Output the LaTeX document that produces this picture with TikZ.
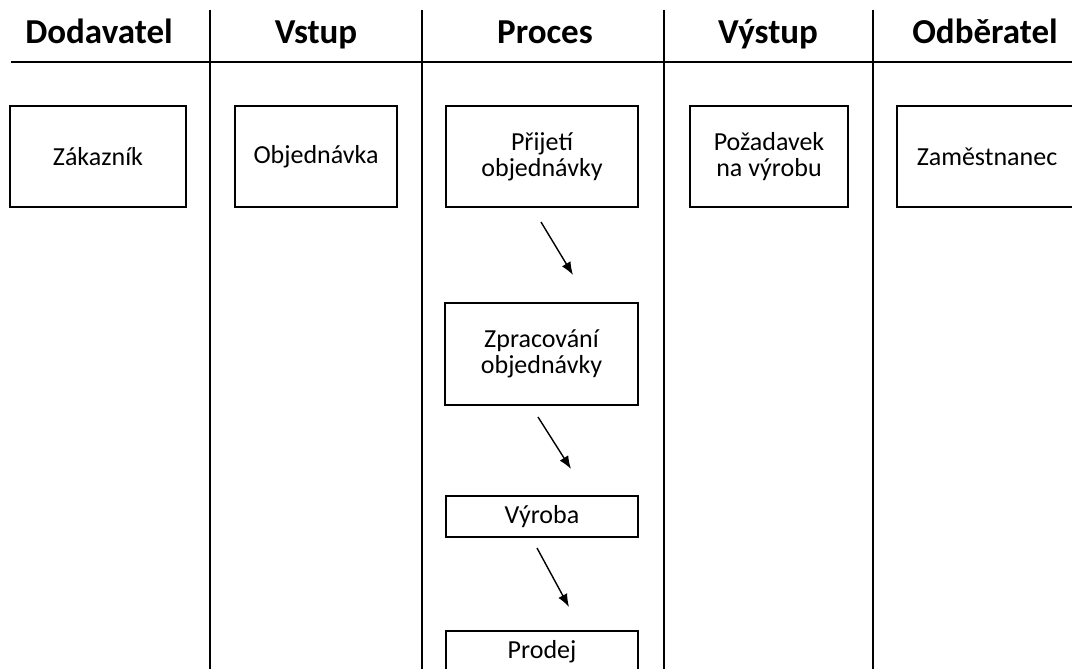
\documentclass[tikz,border=0pt]{standalone}
\usepackage{fontspec}
\setmainfont{Carlito}
\usetikzlibrary{arrows.meta}
\usetikzlibrary{positioning}
\tikzstyle{line} = [draw, line width=1.4pt, -{Latex[length=13pt,width=10pt]}]
\tikzset{
	lane/.style={draw=black, line width=1.8pt},
	head/.style={font=\bfseries\fontsize{35}{40}\selectfont, anchor=base},
	box/.style={draw=black, line width=1.5pt, align=center, inner sep=0pt,
		minimum height=101pt, font=\fontsize{26}{26}\selectfont},
}

\begin{document}
\begin{tikzpicture}[x=1pt, y=-1pt]
	\useasboundingbox (0,0) rectangle (1072,669);
	\clip (0,0) rectangle (1072,669);
	% swimlanes
	\draw[lane](11,62)--(1072,62);
	\draw[lane](210,10)--(210,669);
	\draw[lane](422,10)--(422,669);
	\draw[lane](664,10)--(664,669);
	\draw[lane](873,10)--(873,669);
	\node[head] (dodavatel) at (99,44) {Dodavatel};
	\node[head] (vstup) at (316,44) {Vstup};
	\node[head] (proces) at (545,44) {Proces};
	\node[head] (vystup) at (768,44) {Výstup};
	\node[head] (odberatel) at (985,44) {Odběratel};
	% first row
	\node[box, minimum width=176pt] (zakaznik) at (98,156.5) {Zákazník};
	\node[box, minimum width=162pt] (objednavka) at (316,156.5) {Objednávka};
	\node[box, minimum width=192pt] (prijeti) at (542,156.5) {Přijetí\\objednávky};
	\node[box, minimum width=158pt] (pozadavek) at (769,156.5) {Požadavek\\na výrobu};
	\node[box, minimum width=180pt] (zamestnanec) at (987,156.5) {Zaměstnanec};
	% process
	\node[box, minimum width=193pt, minimum height=102pt] (zpracovani) at (541.5,354) {Zpracování\\objednávky};
	\node[box, minimum width=192pt, minimum height=41pt] (vyroba) at (542,516.5) {Výroba};
	\node[box, minimum width=192pt, minimum height=41pt] (prodej) at (542,651.5) {Prodej};
	\coordinate (a1s) at (541,222);
	\coordinate (a1e) at (573,275);
	\coordinate (a2s) at (538,417);
	\coordinate (a2e) at (571,469);
	\coordinate (a3s) at (537,548);
	\coordinate (a3e) at (569,607);
	\path[line] (a1s)--(a1e);
	\path[line] (a2s)--(a2e);
	\path[line] (a3s)--(a3e);
\end{tikzpicture}
\end{document}
